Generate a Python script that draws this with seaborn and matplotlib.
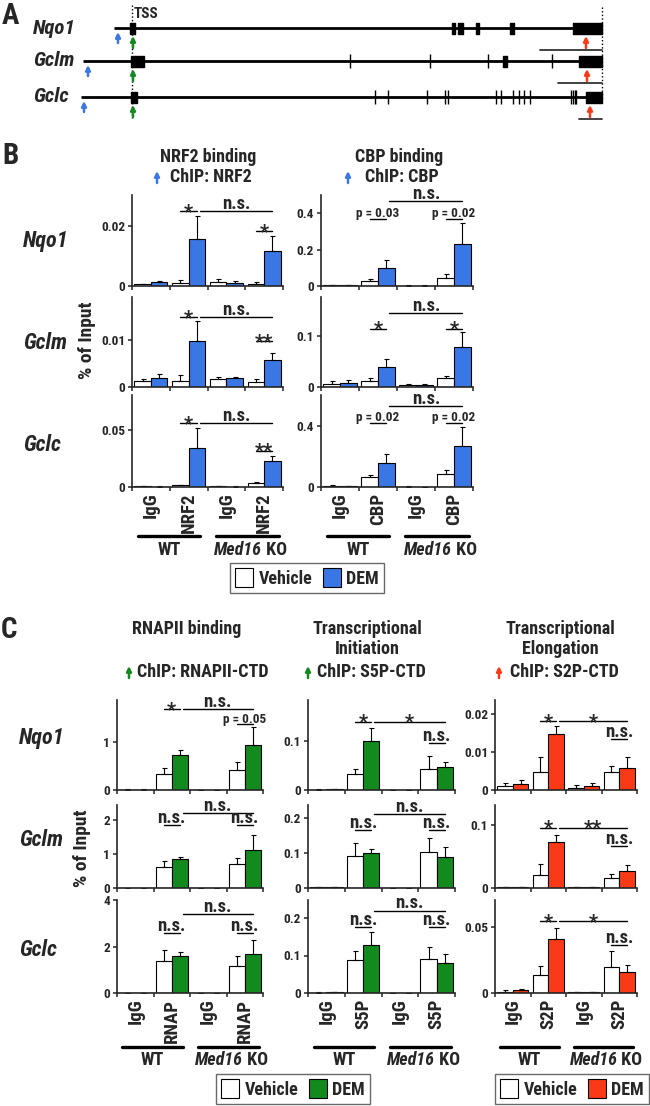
import matplotlib
matplotlib.use('Agg')
import matplotlib.pyplot as plt
from matplotlib.patches import Patch
from matplotlib.ticker import FuncFormatter
import pandas as pd
import seaborn as sns

sns.set_style('ticks')
plt.rcParams['font.family'] = ['Roboto Condensed', 'Liberation Sans Narrow',
                               'Liberation Sans', 'DejaVu Sans']
plt.rcParams['font.weight'] = 'bold'
plt.rcParams['axes.linewidth'] = 1.2

W, H = 650, 1106
BLUE, GREEN, RED = '#3A77E4', '#138A1E', '#FA3A17'

genes = ['Nqo1', 'Gclm', 'Gclc']
groups = ['WT IgG', 'WT ChIP', 'KO IgG', 'KO ChIP']
treatments = ['Vehicle', 'DEM']

# ---- panel A: gene schematics (coordinates relative to TSS) ----
gene_start = [-18, -49, -51]
gene_end = [470, 470, 470]
exon_boxes = [
    [(-2, 5), (320, 3), (326, 5), (344, 3), (378, 4), (441, 29)],
    [(-1, 13), (371, 4), (447, 23)],
    [(-1, 6), (454, 16)],
]
exon_lines = [
    [],
    [218, 298, 356, 420],
    [243, 256, 295, 313, 316, 364, 369, 381, 387, 392, 398, 439, 441, 443, 444],
]
nrf2_site = [-14, -44, -48]
tss_site = [1, 1, 1]
s2p_site = [454, 455, 458]
utr_span = [(408, 470), (426, 470), (447, 470)]

# ---- panel B ----
nrf2_veh = [[0.0005, 0.0010, 0.0012, 0.0008], [0.0012, 0.0013, 0.0016, 0.0010], [0.0005, 0.0015, 0.0005, 0.0035]]
nrf2_veh_err = [[0.0002, 0.0010, 0.0010, 0.0004], [0.0005, 0.0013, 0.0006, 0.0007], [0.0003, 0.0005, 0.0002, 0.0010]]
nrf2_dem = [[0.0012, 0.0157, 0.0010, 0.0117], [0.0018, 0.0097, 0.0018, 0.0057], [0.0003, 0.0340, 0.0004, 0.0230]]
nrf2_dem_err = [[0.0006, 0.0077, 0.0006, 0.0049], [0.0010, 0.0043, 0.0004, 0.0015], [0.0002, 0.0180, 0.0002, 0.0040]]

cbp_veh = [[0.005, 0.028, 0.002, 0.045], [0.006, 0.011, 0.003, 0.018], [0.008, 0.062, 0.003, 0.084]]
cbp_veh_err = [[0.003, 0.012, 0.001, 0.020], [0.005, 0.006, 0.002, 0.004], [0.007, 0.018, 0.002, 0.026]]
cbp_dem = [[0.004, 0.097, 0.002, 0.230], [0.008, 0.040, 0.003, 0.078], [0.005, 0.158, 0.002, 0.270]]
cbp_dem_err = [[0.002, 0.047, 0.001, 0.114], [0.005, 0.015, 0.002, 0.030], [0.003, 0.060, 0.001, 0.120]]

# ---- panel C ----
rnap_veh = [[0.01, 0.34, 0.005, 0.42], [0.005, 0.63, 0.005, 0.70], [0.005, 1.39, 0.005, 1.16]]
rnap_veh_err = [[0.005, 0.11, 0.002, 0.16], [0.002, 0.17, 0.002, 0.18], [0.002, 0.44, 0.002, 0.44]]
rnap_dem = [[0.01, 0.72, 0.005, 0.94], [0.005, 0.85, 0.005, 1.12], [0.005, 1.57, 0.005, 1.68]]
rnap_dem_err = [[0.005, 0.11, 0.002, 0.37], [0.002, 0.07, 0.002, 0.44], [0.002, 0.21, 0.002, 0.61]]

s5p_veh = [[0.001, 0.032, 0.0005, 0.043], [0.002, 0.092, 0.001, 0.103], [0.001, 0.088, 0.001, 0.092]]
s5p_veh_err = [[0.0005, 0.010, 0.0002, 0.026], [0.001, 0.037, 0.0002, 0.040], [0.0005, 0.024, 0.0002, 0.032]]
s5p_dem = [[0.002, 0.100, 0.0005, 0.047], [0.002, 0.100, 0.001, 0.088], [0.002, 0.128, 0.001, 0.081]]
s5p_dem_err = [[0.001, 0.026, 0.0002, 0.010], [0.001, 0.012, 0.0002, 0.028], [0.001, 0.036, 0.0002, 0.022]]

s2p_veh = [[0.0011, 0.0048, 0.0006, 0.0047], [0.001, 0.020, 0.001, 0.0166], [0.001, 0.0133, 0.0005, 0.0194]]
s2p_veh_err = [[0.0007, 0.0038, 0.0007, 0.0017], [0.0005, 0.018, 0.0005, 0.0054], [0.001, 0.0071, 0.0003, 0.0126]]
s2p_dem = [[0.0017, 0.0147, 0.001, 0.0058], [0.0015, 0.073, 0.001, 0.027], [0.002, 0.0408, 0.0005, 0.0156]]
s2p_dem_err = [[0.0009, 0.0021, 0.0008, 0.0030], [0.0008, 0.012, 0.0005, 0.009], [0.0013, 0.0084, 0.0003, 0.0056]]

# y ranges and ticks per gene row
nrf2_ylim, nrf2_ticks = [0.0303, 0.019, 0.081], [[0, 0.02], [0, 0.01], [0, 0.05]]
cbp_ylim, cbp_ticks = [0.5, 0.176, 0.6], [[0, 0.2, 0.4], [0, 0.1], [0, 0.4]]
rnap_ylim, rnap_ticks = [1.875, 2.45, 4.0], [[0, 1], [0, 1, 2], [0, 2, 4]]
s5p_ylim, s5p_ticks = [0.184, 0.237, 0.248], [[0, 0.1], [0, 0.1, 0.2], [0, 0.1, 0.2]]
s2p_ylim, s2p_ticks = [0.0237, 0.132, 0.0705], [[0, 0.01, 0.02], [0, 0.1], [0, 0.05]]

# significance marks: (label, x0, x1, y)
nrf2_sig = [
    [('*', 0.78, 1.22, 0.025), ('n.s.', 1.3, 3.22, 0.025), ('*', 2.78, 3.22, 0.0183)],
    [('*', 0.78, 1.22, 0.0147), ('n.s.', 1.3, 3.22, 0.0147), ('**', 2.78, 3.22, 0.0097)],
    [('*', 0.78, 1.22, 0.056), ('n.s.', 1.3, 3.22, 0.056), ('**', 2.78, 3.22, 0.032)],
]
cbp_sig = [
    [('n.s.', 1.3, 3.22, 0.467), ('p = 0.03', 0.78, 1.22, 0.37), ('p = 0.02', 2.78, 3.22, 0.37)],
    [('n.s.', 1.3, 3.22, 0.144), ('*', 0.78, 1.22, 0.114), ('*', 2.78, 3.22, 0.114)],
    [('n.s.', 1.3, 3.22, 0.53), ('p = 0.02', 0.78, 1.22, 0.42), ('p = 0.02', 2.78, 3.22, 0.42)],
]
rnap_sig = [
    [('*', 0.78, 1.22, 1.68), ('n.s.', 1.3, 3.22, 1.68), ('p = 0.05', 2.78, 3.22, 1.375)],
    [('n.s.', 1.3, 3.22, 2.2), ('n.s.', 0.78, 1.22, 1.85), ('n.s.', 2.78, 3.22, 1.85)],
    [('n.s.', 1.3, 3.22, 3.38), ('n.s.', 0.78, 1.22, 2.58), ('n.s.', 2.78, 3.22, 2.58)],
]
s5p_sig = [
    [('*', 0.78, 1.22, 0.14), ('*', 1.3, 3.22, 0.14), ('n.s.', 2.78, 3.22, 0.096)],
    [('n.s.', 1.3, 3.22, 0.21), ('n.s.', 0.78, 1.22, 0.166), ('n.s.', 2.78, 3.22, 0.166)],
    [('n.s.', 1.3, 3.22, 0.22), ('n.s.', 0.78, 1.22, 0.175), ('n.s.', 2.78, 3.22, 0.175)],
]
s2p_sig = [
    [('*', 0.78, 1.22, 0.0182), ('*', 1.3, 3.22, 0.0182), ('n.s.', 2.78, 3.22, 0.0134)],
    [('*', 0.78, 1.22, 0.096), ('**', 1.3, 3.22, 0.096), ('n.s.', 2.78, 3.22, 0.067)],
    [('*', 0.78, 1.22, 0.0543), ('*', 1.3, 3.22, 0.0543), ('n.s.', 2.78, 3.22, 0.0365)],
]

fig = plt.figure(figsize=(W / 100, H / 100), dpi=100)


def px_axes(x0, y0, x1, y1):
    ax = fig.add_axes([x0 / W, 1 - y1 / H, (x1 - x0) / W, (y1 - y0) / H])
    ax.patch.set_visible(False)
    return ax


def up_arrow(ax, x, y_tip, y_tail, color):
    ax.annotate('', xy=(x, y_tip), xytext=(x, y_tail),
                arrowprops=dict(arrowstyle='-|>', color=color, lw=1.8,
                                mutation_scale=7, shrinkA=0, shrinkB=0))


def sig(ax, label, x0, x1, y):
    ax.plot([x0, x1], [y, y], color='black', lw=1, clip_on=False)
    xc = (x0 + x1) / 2
    if label.startswith('p'):
        ax.annotate(label, (xc, y), xytext=(0, 1), textcoords='offset points',
                    ha='center', va='baseline', fontsize=9.5, annotation_clip=False)
    elif '*' in label:
        ax.annotate(label, (xc, y), xytext=(0, -5), textcoords='offset points',
                    ha='center', va='baseline', fontsize=14.5, annotation_clip=False)
    else:
        ax.annotate(label, (xc, y), xytext=(0, 1.5), textcoords='offset points',
                    ha='center', va='baseline', fontsize=13.5, annotation_clip=False)


def bar_panel(rect, veh, veh_err, dem, dem_err, color, ymax, yticks, marks,
              tick_names=None):
    x0, y0, x1, y1 = rect
    ax = px_axes(x0, y0, x1, y1)
    df = pd.DataFrame({
        'group': groups * 2,
        'treatment': ['Vehicle'] * 4 + ['DEM'] * 4,
        'value': list(veh) + list(dem),
    })
    sns.barplot(data=df, x='group', y='value', hue='treatment', order=groups,
                hue_order=treatments, palette={'Vehicle': 'white', 'DEM': color},
                edgecolor='black', linewidth=0.8, width=0.88, saturation=1,
                errorbar=None, legend=False, ax=ax)
    bars = list(ax.containers[:2])
    for cont, errs in zip(bars, [veh_err, dem_err]):
        for patch, e in zip(cont, errs):
            xc = patch.get_x() + patch.get_width() / 2
            ax.errorbar(xc, patch.get_height(), yerr=[[0], [e]], color='black',
                        lw=0.8, capsize=1.8, capthick=0.8)
    ax.set_xlim(-0.5, 3.5)
    ax.set_ylim(0, ymax)
    ax.set_yticks(yticks)
    ax.yaxis.set_major_formatter(FuncFormatter(lambda v, p: f'{v:g}'))
    ax.set_xlabel('')
    ax.set_ylabel('')
    sns.despine(ax=ax)
    ax.tick_params(axis='y', length=3, width=1.1, labelsize=9.5, pad=2)
    ax.set_xticks([-0.5, 0.5, 1.5, 2.5, 3.5], minor=True)
    ax.tick_params(axis='x', which='minor', length=3, width=1.1)
    ax.set_xticks(range(4))
    ax.tick_params(axis='x', which='major', length=0, pad=4)
    if tick_names is None:
        ax.set_xticklabels([])
    else:
        ax.set_xticklabels(tick_names, rotation=90, fontsize=13.5, va='top')
        h = y1 - y0
        tr = ax.get_xaxis_transform()
        line_y = -54 / h if y1 > 900 else -49 / h
        text_y = -67 / h if y1 > 900 else -63 / h
        for a, b in [(-0.35, 1.3), (1.72, 3.4)]:
            ax.plot([a, b], [line_y, line_y], color='black', lw=2.4,
                    transform=tr, clip_on=False)
        ax.text(0.48, text_y, 'WT', transform=tr, ha='center', va='center', fontsize=13)
        ax.text(2.95, text_y, 'Med16', transform=tr, ha='right', va='center',
                fontsize=13, style='italic')
        ax.text(2.95, text_y, ' KO', transform=tr, ha='left', va='center', fontsize=13)
    for m in marks:
        sig(ax, *m)
    return ax


# ---- panel A ----
TSS_X = 132
row_y = [28, 61, 97]
axA = px_axes(0, 0, W, 125)
axA.set_xlim(-TSS_X, W - TSS_X)
axA.set_ylim(125, 0)
axA.axis('off')
axA.plot([0, 0], [5, 118], color='black', lw=1, ls=(0, (1, 1.6)))
axA.plot([470, 470], [7, 100], color='black', lw=1, ls=(0, (1, 1.6)))
for i in range(3):
    y = row_y[i]
    axA.plot([gene_start[i], gene_end[i]], [y, y], color='black', lw=2,
             solid_capstyle='butt')
    axA.broken_barh(exon_boxes[i], (y - 5.5, 11), color='black')
    if exon_lines[i]:
        axA.vlines(exon_lines[i], y - 7, y + 7, color='black', lw=1)
    up_arrow(axA, nrf2_site[i], y + 4, y + 15, BLUE)
    up_arrow(axA, tss_site[i], y + 8, y + 20, GREEN)
    up_arrow(axA, s2p_site[i], y + 8, y + 20, RED)
    axA.plot(utr_span[i], [y + 22, y + 22], color='#333333', lw=1.3)

# ---- panel B ----
b_cols = [(132, 283), (321, 473)]
b_rows = [(195, 286), (297, 387), (395, 487)]
for i in range(3):
    last = i == 2
    bar_panel((b_cols[0][0], b_rows[i][0], b_cols[0][1], b_rows[i][1]),
              nrf2_veh[i], nrf2_veh_err[i], nrf2_dem[i], nrf2_dem_err[i], BLUE,
              nrf2_ylim[i], nrf2_ticks[i], nrf2_sig[i],
              ['IgG', 'NRF2', 'IgG', 'NRF2'] if last else None)
    bar_panel((b_cols[1][0], b_rows[i][0], b_cols[1][1], b_rows[i][1]),
              cbp_veh[i], cbp_veh_err[i], cbp_dem[i], cbp_dem_err[i], BLUE,
              cbp_ylim[i], cbp_ticks[i], cbp_sig[i],
              ['IgG', 'CBP', 'IgG', 'CBP'] if last else None)

# ---- panel C ----
c_cols = [(117, 263), (308, 455), (495, 637)]
c_rows = [(700, 790), (805, 888), (900, 993)]
c_sets = [
    (rnap_veh, rnap_veh_err, rnap_dem, rnap_dem_err, GREEN, rnap_ylim, rnap_ticks, rnap_sig, 'RNAP'),
    (s5p_veh, s5p_veh_err, s5p_dem, s5p_dem_err, GREEN, s5p_ylim, s5p_ticks, s5p_sig, 'S5P'),
    (s2p_veh, s2p_veh_err, s2p_dem, s2p_dem_err, RED, s2p_ylim, s2p_ticks, s2p_sig, 'S2P'),
]
for j, (v, ve, d, de, col, yl, yt, sg, nm) in enumerate(c_sets):
    for i in range(3):
        bar_panel((c_cols[j][0], c_rows[i][0], c_cols[j][1], c_rows[i][1]),
                  v[i], ve[i], d[i], de[i], col, yl[i], yt[i], sg[i],
                  ['IgG', nm, 'IgG', nm] if i == 2 else None)

# ---- text overlay in pixel coordinates ----
ov = px_axes(0, 0, W, H)
ov.set_xlim(0, W)
ov.set_ylim(H, 0)
ov.axis('off')

for lab, (x, y) in zip('ABC', [(10, 16), (10, 156), (9, 630)]):
    ov.text(x, y, lab, fontsize=21, ha='center', va='center')
for g, y in zip(genes, row_y):
    ov.text(33, y, g, fontsize=15, style='italic', ha='left', va='center')
ov.text(134, 14, 'TSS', fontsize=11, ha='left', va='center')

for g, y in zip(genes, [241, 343, 445]):
    ov.text(23, y, g, fontsize=16, style='italic', ha='left', va='center')
for g, y in zip(genes, [738, 840, 950]):
    ov.text(19, y, g, fontsize=16, style='italic', ha='left', va='center')
ov.text(87, 340, '% of Input', fontsize=14, rotation=90, ha='center', va='center')
ov.text(82, 848, '% of Input', fontsize=14, rotation=90, ha='center', va='center')

ov.text(208, 157, 'NRF2 binding', fontsize=13, ha='center', va='center')
ov.text(170, 177, 'ChIP: NRF2', fontsize=13, ha='left', va='center')
up_arrow(ov, 157, 171, 183, BLUE)
ov.text(399, 157, 'CBP binding', fontsize=13, ha='center', va='center')
ov.text(365, 177, 'ChIP: CBP', fontsize=13, ha='left', va='center')
up_arrow(ov, 348, 171, 183, BLUE)

ov.text(187, 629, 'RNAPII binding', fontsize=13, ha='center', va='center')
ov.text(367, 629, 'Transcriptional', fontsize=13, ha='center', va='center')
ov.text(367, 649, 'Initiation', fontsize=13, ha='center', va='center')
ov.text(560, 629, 'Transcriptional', fontsize=13, ha='center', va='center')
ov.text(560, 649, 'Elongation', fontsize=13, ha='center', va='center')
for x_arrow, x_text, label, col in [(129, 137, 'ChIP: RNAPII-CTD', GREEN),
                                     (308, 317, 'ChIP: S5P-CTD', GREEN),
                                     (499, 510, 'ChIP: S2P-CTD', RED)]:
    ov.text(x_text, 672, label, fontsize=13, ha='left', va='center')
    up_arrow(ov, x_arrow, 666, 678, col)

# ---- legends ----
for col, (cx, cy) in [(BLUE, (307, 578)), (GREEN, (293, 1089)), (RED, (572, 1089))]:
    handles = [Patch(facecolor='white', edgecolor='black', lw=0.8),
               Patch(facecolor=col, edgecolor='black', lw=0.8)]
    leg = fig.legend(handles, treatments, ncol=2, loc='center',
                     bbox_to_anchor=(cx / W, 1 - cy / H), frameon=True,
                     fancybox=False, edgecolor='#444444', handlelength=1.0,
                     handleheight=1.2, handletextpad=0.3, columnspacing=0.6,
                     borderpad=0.3, prop={'size': 13, 'weight': 'bold'})
    leg.get_frame().set_linewidth(1)

fig.savefig('out.png', dpi=100)
